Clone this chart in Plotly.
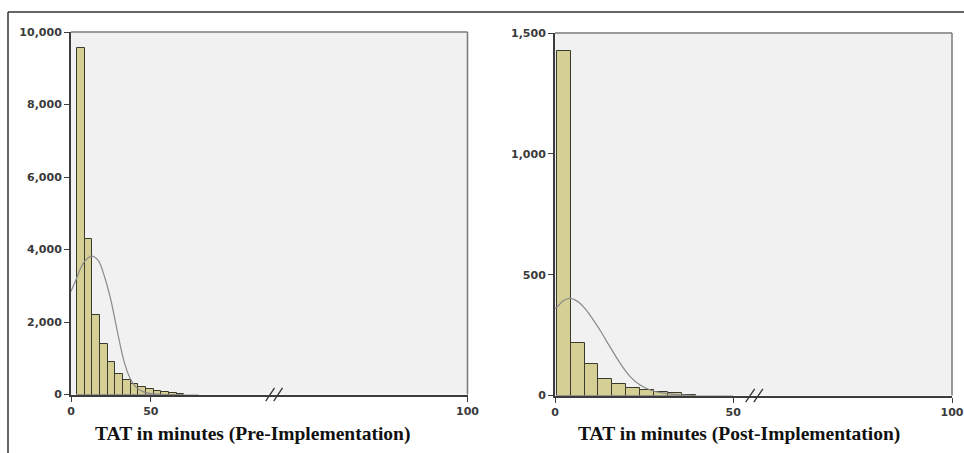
import plotly.graph_objects as go

# ---------------- data ----------------
# Pre-implementation histogram (TAT in minutes)
pre_bin_start = 3.8
pre_bin_width = 4.8
pre_counts = [9560, 4300, 2200, 1390, 885, 575, 410, 280, 205, 150, 110, 75, 45, 20]
# fitted normal curve (minutes, count)
pre_curve_x = [0, 3, 6, 9, 13, 17, 21, 25, 29, 33, 37, 41, 45, 50, 56, 65, 80]
pre_curve_y = [2850, 3150, 3480, 3700, 3820, 3700, 3250, 2600, 1750, 950, 450, 190, 80, 25, 6, 0, 0]

# Post-implementation histogram
post_bin_start = 0.5
post_bin_width = 3.9
post_counts = [1424, 218, 130, 67, 47, 30, 23, 16, 9, 3]
post_curve_x = [0, 0.5, 2.3, 4.2, 7.0, 9.8, 12.6, 15.4, 18.3, 21.1, 23.9, 26.7, 29.5, 38.0, 50.0]
post_curve_y = [361, 365, 392, 402, 382, 333, 271, 202, 133, 78, 43, 23, 12, 1, 0]

# axis ticks (break after ~75 min; "100" drawn at the right edge)
pre_x_tickvals = [0, 50, 248.4]
post_x_tickvals = [0, 50, 111.4]
x_ticktext = ["0", "50", "100"]
pre_y_ticks = [0, 2000, 4000, 6000, 8000, 10000]
post_y_ticks = [0, 500, 1000, 1500]

titles = ["TAT in minutes (Pre-Implementation)", "TAT in minutes (Post-Implementation)"]

# ---------------- figure ----------------
BAR_FILL = "#d5cf96"
BAR_EDGE = "#3a3a2c"
CURVE = "#8a8a8a"
BG = "#f1f1f1"

fig = go.Figure()

pre_x = [pre_bin_start + pre_bin_width * (i + 0.5) for i in range(len(pre_counts))]
post_x = [post_bin_start + post_bin_width * (i + 0.5) for i in range(len(post_counts))]

fig.add_trace(go.Bar(x=pre_x, y=pre_counts, width=pre_bin_width,
                     marker=dict(color=BAR_FILL, line=dict(color=BAR_EDGE, width=1)),
                     xaxis="x", yaxis="y", showlegend=False))
fig.add_trace(go.Scatter(x=pre_curve_x, y=pre_curve_y, mode="lines",
                         line=dict(color=CURVE, width=1.2, shape="spline", smoothing=1.0),
                         xaxis="x", yaxis="y", showlegend=False))
fig.add_trace(go.Bar(x=post_x, y=post_counts, width=post_bin_width,
                     marker=dict(color=BAR_FILL, line=dict(color=BAR_EDGE, width=1)),
                     xaxis="x2", yaxis="y2", showlegend=False))
fig.add_trace(go.Scatter(x=post_curve_x, y=post_curve_y, mode="lines",
                         line=dict(color=CURVE, width=1.2, shape="spline", smoothing=1.0),
                         xaxis="x2", yaxis="y2", showlegend=False))

W, H = 964, 453
def px_x(p):
    return p / W
def px_y(p):
    return 1 - p / H

tickfont = dict(family="DejaVu Sans", size=11, color="#3a3a3a", weight=600)
axis_common = dict(showgrid=False, zeroline=False, showline=True, linecolor="#3c3c3c",
                   linewidth=2, ticks="outside", ticklen=5, tickcolor="#3c3c3c",
                   tickwidth=1, tickfont=tickfont, fixedrange=True, automargin=False)

fig.update_layout(
    width=W, height=H,
    autosize=False,
    margin=dict(l=0, r=0, t=0, b=0, pad=0, autoexpand=False),
    paper_bgcolor="white",
    plot_bgcolor=BG,
    bargap=0,
    xaxis=dict(domain=[px_x(71), px_x(467.5)], range=[0, 248.4], anchor="y",
               tickvals=pre_x_tickvals, ticktext=x_ticktext, **axis_common),
    yaxis=dict(domain=[px_y(394.5), px_y(32)], range=[0, 10000], anchor="x",
               tickvals=pre_y_ticks, tickformat=",", **axis_common),
    xaxis2=dict(domain=[px_x(555), px_x(952)], range=[0, 111.4], anchor="y2",
                tickvals=post_x_tickvals, ticktext=x_ticktext, **axis_common),
    yaxis2=dict(domain=[px_y(395.5), px_y(33)], range=[0, 1500], anchor="x2",
                tickvals=post_y_ticks, tickformat=",", **axis_common),
)

shapes = []
# gray top/right frame of each plot area
for xr, yr in (("x", "y"), ("x2", "y2")):
    shapes.append(dict(type="line", xref=f"{xr} domain", yref=f"{yr} domain",
                       x0=0, x1=1, y0=1, y1=1, line=dict(color="#7a7a7a", width=1.5)))
    shapes.append(dict(type="line", xref=f"{xr} domain", yref=f"{yr} domain",
                       x0=1, x1=1, y0=0, y1=1, line=dict(color="#7a7a7a", width=1.5)))

# axis break marks "//"
for xr, yr, xb, step in (("x", "y", 122.0, 5.0), ("x2", "y2", 53.5, 2.3)):
    for k in range(2):
        x0 = xb + k * step
        shapes.append(dict(type="line", xref=xr, yref=f"{yr} domain",
                           x0=x0, x1=x0 + step * 1.1, y0=-0.018, y1=0.018,
                           line=dict(color="#333333", width=1.3)))

# outer image frame (top and left edges visible)
shapes.append(dict(type="line", xref="paper", yref="paper",
                   x0=px_x(8), x1=1.0, y0=px_y(12), y1=px_y(12),
                   line=dict(color="#333333", width=1.5)))
shapes.append(dict(type="line", xref="paper", yref="paper",
                   x0=px_x(8), x1=px_x(8), y0=0, y1=px_y(12),
                   line=dict(color="#333333", width=1.5)))
fig.update_layout(shapes=shapes)

# x-axis titles
for xc, t in ((252, titles[0]), (739, titles[1])):
    fig.add_annotation(text=f"<b>{t}</b>", xref="paper", yref="paper",
                       x=px_x(xc), y=px_y(434), xanchor="center", yanchor="middle",
                       showarrow=False,
                       font=dict(family="Liberation Serif", size=19.5, color="#111111"))

fig.write_html("out.html",
               config={"displayModeBar": False, "responsive": False},
               post_script="document.body.style.margin='0';document.body.style.overflow='hidden';")
